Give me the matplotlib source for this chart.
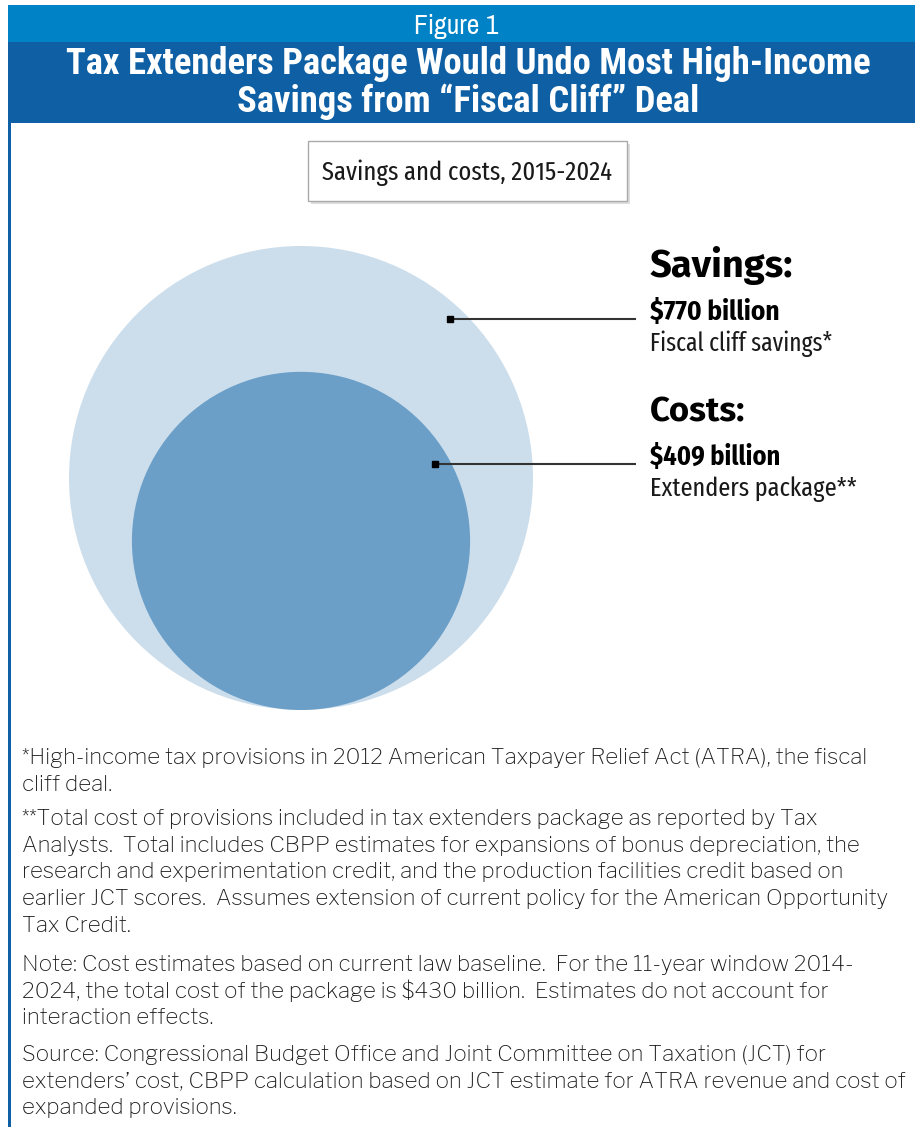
import matplotlib
matplotlib.use("Agg")
import matplotlib.pyplot as plt
from matplotlib.patches import Rectangle, Circle
import numpy as np

# ---- data ----
categories = ["Savings", "Costs"]
values_billion = [770, 409]
amount_labels = ["$770 billion", "$409 billion"]
descriptions = ["Fiscal cliff savings*", "Extenders package**"]
header_labels = ["Savings:", "Costs:"]
figure_label = "Figure 1"
title_lines = ["Tax Extenders Package Would Undo Most High-Income",
               "Savings from \u201cFiscal Cliff\u201d Deal"]
box_label = "Savings and costs, 2015-2024"
footnotes = [
    ["*High-income tax provisions in 2012 American Taxpayer Relief Act (ATRA), the fiscal",
     "cliff deal."],
    ["**Total cost of provisions included in tax extenders package as reported by Tax",
     "Analysts.  Total includes CBPP estimates for expansions of bonus depreciation, the",
     "research and experimentation credit, and the production facilities credit based on",
     "earlier JCT scores.  Assumes extension of current policy for the American Opportunity",
     "Tax Credit."],
    ["Note: Cost estimates based on current law baseline.  For the 11-year window 2014-",
     "2024, the total cost of the package is $430 billion.  Estimates do not account for",
     "interaction effects."],
    ["Source: Congressional Budget Office and Joint Committee on Taxation (JCT) for",
     "extenders\u2019 cost, CBPP calculation based on JCT estimate for ATRA revenue and cost of",
     "expanded provisions."],
]

W, H = 915, 1127
fig = plt.figure(figsize=(W / 100, H / 100), dpi=100)
ax = fig.add_axes([0, 0, 1, 1])
ax.set_xlim(0, W)
ax.set_ylim(H, 0)
ax.axis("off")
renderer = fig.canvas.get_renderer()

NARROW = "Archivo Narrow"
TITLE = "Roboto Condensed"
FOOT = "Libre Franklin"
HUM_BOLD = "Fira Sans"
HUM_COND = "Fira Sans Condensed"
HUM_XCOND = "Fira Sans Extra Condensed"
LIGHT_HDR = "#0083C6"
DARK_HDR = "#0E5FA3"


def fitted_text(x, y, s, width_px, **kw):
    """Draw text whose rendered width matches width_px (pixels)."""
    t = ax.text(x, y, s, fontsize=10, **kw)
    w = t.get_window_extent(renderer).width
    t.set_fontsize(10 * width_px / w)
    return t


# header bands
ax.add_patch(Rectangle((8, 5), W - 8, 38, facecolor=LIGHT_HDR, edgecolor="none"))
ax.add_patch(Rectangle((8, 42), W - 8, 81, facecolor=DARK_HDR, edgecolor="none"))
ax.add_patch(Rectangle((8, 123), 2.5, H - 123, facecolor=DARK_HDR, edgecolor="none"))

fitted_text(456, 34, figure_label, 85, ha="center", va="baseline", color="white", family=NARROW)
t1 = fitted_text(468, 74, title_lines[0], 806, ha="center", va="baseline", color="white",
                 family=TITLE, fontweight="bold")
ax.text(468, 112, title_lines[1], ha="center", va="baseline", color="white",
        family=TITLE, fontweight="bold", fontsize=t1.get_fontsize())

# label box with shadow
ax.add_patch(Rectangle((311, 144), 319, 60, facecolor="#c8c8c8", edgecolor="none", alpha=0.6))
ax.add_patch(Rectangle((308, 141), 319, 60, facecolor="white", edgecolor="#aaaaaa", linewidth=1))
fitted_text(467, 180, box_label, 290, ha="center", va="baseline", color="#1a1a1a", family=HUM_XCOND)

# circles: area proportional to value, bottom-aligned
cx, base_y, R_max = 301, 710, 232
radii = [R_max * np.sqrt(v / max(values_billion)) for v in values_billion]
colors = ["#CCDEEC", "#6B9FC8"]
for r, c in zip(radii, colors):
    ax.add_patch(Circle((cx, base_y - r), r, facecolor=c, edgecolor="none"))

# leader lines
marker_pts = [(450, 319), (435, 464)]
for (mx, my) in marker_pts:
    ax.plot([mx, 636], [my, my], color="#333333", lw=1.5, solid_capstyle="butt")
    ax.plot([mx], [my], marker="s", ms=5, color="black")

# right-side labels
label_base = [277, 422]
hdr_w = [143, 96]
amt_w = [130, 130]
desc_w = [183, 207]
for i in range(len(categories)):
    b = label_base[i]
    fitted_text(650, b, header_labels[i], hdr_w[i], ha="left", va="baseline", color="black",
                family=HUM_BOLD, fontweight="bold")
    fitted_text(650, b + 43, amount_labels[i], amt_w[i], ha="left", va="baseline", color="black",
                family=HUM_COND, fontweight="bold")
    fitted_text(650, b + 74, descriptions[i], desc_w[i], ha="left", va="baseline",
                color="#1a1a1a", family=HUM_XCOND)

# footnotes
t = fitted_text(22, 764, footnotes[0][0], 848, ha="left", va="baseline", color="#1a1a1a",
                family=FOOT)
fs = t.get_fontsize()
t.remove()
para_starts = [764, 825, 971, 1061]
pitch = 26.7
for start, lines in zip(para_starts, footnotes):
    for j, line in enumerate(lines):
        ax.text(22, start + j * pitch, line, ha="left", va="baseline", color="#1a1a1a",
                fontsize=fs, family=FOOT)

fig.savefig("out.png", dpi=100)
